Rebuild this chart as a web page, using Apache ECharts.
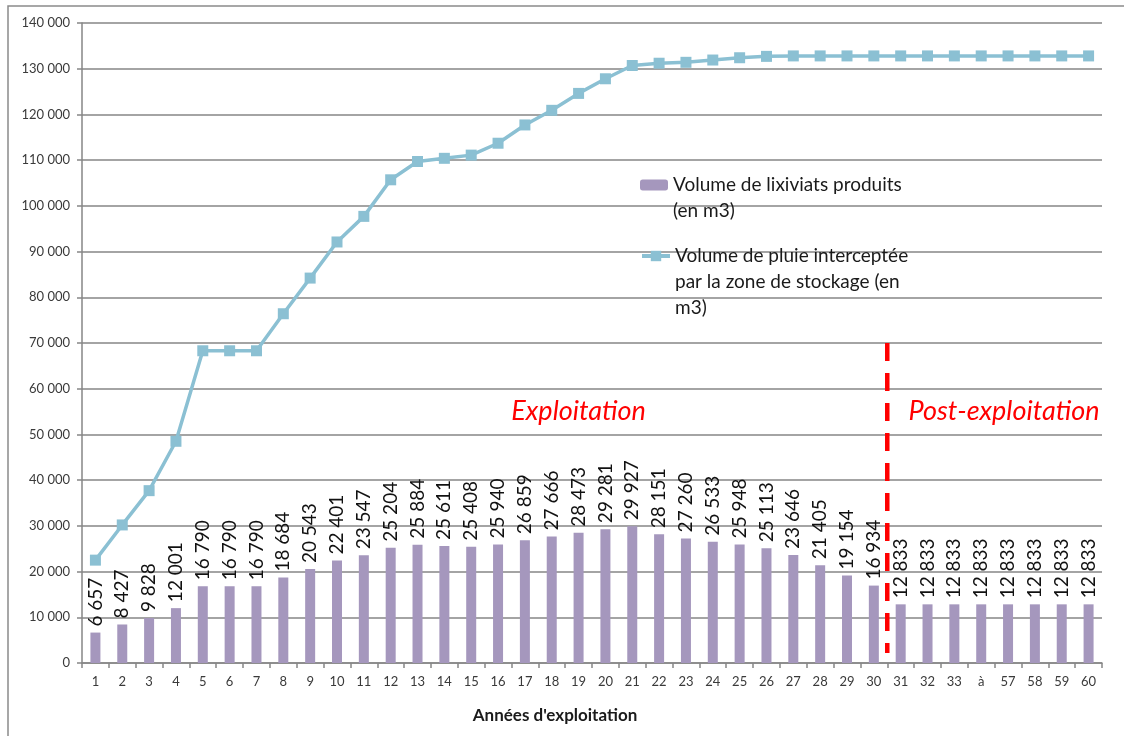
<!DOCTYPE html>
<html>
<head>
<meta charset="utf-8">
<script src="https://cdn.jsdelivr.net/npm/echarts@6/dist/echarts.min.js"></script>
<style>
  html, body { margin: 0; padding: 0; background: #fff; }
  #chart { width: 1124px; height: 736px; }
</style>
</head>
<body>
<div id="chart"></div>
<script>
// Années d'exploitation (31 à 57 regroupées sous « à »)
const years = ['1','2','3','4','5','6','7','8','9','10','11','12','13','14','15','16','17','18','19','20',
  '21','22','23','24','25','26','27','28','29','30','31','32','33','à','57','58','59','60'];

// Volume de lixiviats produits (m3)
const leachate = [6657, 8427, 9828, 12001, 16790, 16790, 16790, 18684, 20543, 22401,
  23547, 25204, 25884, 25611, 25408, 25940, 26859, 27666, 28473, 29281,
  29927, 28151, 27260, 26533, 25948, 25113, 23646, 21405, 19154, 16934,
  12833, 12833, 12833, 12833, 12833, 12833, 12833, 12833];

// Volume de pluie interceptée par la zone de stockage (m3)
const rainfall = [22500, 30200, 37700, 48500, 68300, 68300, 68300, 76400, 84200, 92100,
  97700, 105700, 109700, 110400, 111100, 113700, 117700, 120900, 124600, 127800,
  130700, 131200, 131400, 131900, 132400, 132700, 132800, 132800, 132800, 132800,
  132800, 132800, 132800, 132800, 132800, 132800, 132800, 132800];

const FONT = 'Lato';
const BAR_COLOR = '#A597BD';
const LINE_COLOR = '#8BC0D3';
const fmt = v => String(v).replace(/\B(?=(\d{3})+(?!\d))/g, ' ');

const chart = echarts.init(document.getElementById('chart'), null, { renderer: 'canvas' });

chart.setOption({
  animation: false,
  backgroundColor: '#ffffff',
  textStyle: { fontFamily: FONT },
  grid: { left: 82, right: 22, top: 23, bottom: 73, containLabel: false },
  legend: [
    {
      data: ['Volume de lixiviats produits'],
      left: 640, top: 146, padding: 0,
      itemWidth: 28, itemHeight: 11, itemGap: 3,
      formatter: () => '\nVolume de lixiviats produits\n(en m3)',
      textStyle: { fontFamily: FONT, fontSize: 19, color: '#1a1a1a', lineHeight: 26 }
    },
    {
      data: [{
        name: 'Volume de pluie interceptée',
        lineStyle: { width: 4, color: LINE_COLOR },
        itemStyle: { color: LINE_COLOR }
      }],
      left: 640, top: 191, padding: 0,
      itemWidth: 28, itemHeight: 13, itemGap: 3,
      formatter: () => '\n\nVolume de pluie interceptée\npar la zone de stockage (en\nm3)',
      textStyle: { fontFamily: FONT, fontSize: 19, color: '#1a1a1a', lineHeight: 26 }
    }
  ],
  xAxis: {
    type: 'category',
    data: years,
    boundaryGap: true,
    axisLine: { lineStyle: { color: '#868686', width: 1.5 } },
    axisTick: { show: true, length: 5, lineStyle: { color: '#868686', width: 1.5 } },
    axisLabel: { interval: 0, margin: 12, fontFamily: FONT, fontSize: 13, color: '#3a3a3a' },
    splitLine: { show: false }
  },
  yAxis: {
    type: 'value',
    min: 0, max: 140000, interval: 10000,
    axisLine: { show: true, lineStyle: { color: '#868686', width: 1.5 } },
    axisTick: { show: true, length: 5, lineStyle: { color: '#868686', width: 1.5 } },
    axisLabel: { margin: 12, fontFamily: FONT, fontSize: 13, color: '#3a3a3a', formatter: fmt },
    splitLine: { show: true, lineStyle: { color: '#868686', width: 1.5 } }
  },
  series: [
    {
      name: 'Volume de lixiviats produits',
      type: 'bar',
      data: leachate,
      barWidth: 10,
      itemStyle: { color: BAR_COLOR },
      label: {
        show: true,
        position: 'top',
        rotate: 90,
        align: 'left',
        verticalAlign: 'middle',
        distance: 6,
        fontFamily: FONT,
        fontSize: 19,
        color: '#111111',
        formatter: p => fmt(p.value)
      },
      z: 2
    },
    {
      name: 'Volume de pluie interceptée',
      type: 'line',
      data: rainfall,
      symbol: 'rect',
      symbolSize: 11,
      itemStyle: { color: LINE_COLOR },
      lineStyle: { color: LINE_COLOR, width: 3.5 },
      z: 3
    }
  ]
});

// Annotations: phase separator and phase names placed through the chart's own scales
const px = (cat, val) => chart.convertToPixel({ gridIndex: 0 }, [cat, val]);
const sepTop = px(29, 70000), sepBot = px(29, 2200), after = px(30, 0);
const sepX = (sepTop[0] + after[0]) / 2;
const expl = px(18, 55000);
const post = px(34, 55000);

chart.setOption({
  graphic: [
    {
      type: 'polyline',
      shape: { points: [[8, 740], [8, 6], [1130, 6]] },
      style: { stroke: '#8a8a8a', lineWidth: 1.5, fill: null },
      silent: true
    },
    {
      type: 'line',
      shape: { x1: sepX, y1: sepTop[1], x2: sepX, y2: sepBot[1] },
      style: { stroke: '#ff0000', lineWidth: 4.5, lineDash: [18, 12] },
      z: 10
    },
    {
      type: 'text',
      x: expl[0], y: expl[1],
      style: { text: 'Exploitation', font: 'italic 27px Lato', fill: '#ff0000',
        textAlign: 'center', textVerticalAlign: 'middle' },
      z: 10
    },
    {
      type: 'text',
      x: post[0] - 4, y: post[1],
      style: { text: 'Post-exploitation', font: 'italic 27px Lato', fill: '#ff0000',
        textAlign: 'center', textVerticalAlign: 'middle' },
      z: 10
    },
    {
      type: 'text',
      x: 555, y: 716,
      style: { text: "Années d'exploitation", font: 'bold 17px Lato', fill: '#1a1a1a',
        textAlign: 'center', textVerticalAlign: 'middle' }
    }
  ]
});
</script>
</body>
</html>
